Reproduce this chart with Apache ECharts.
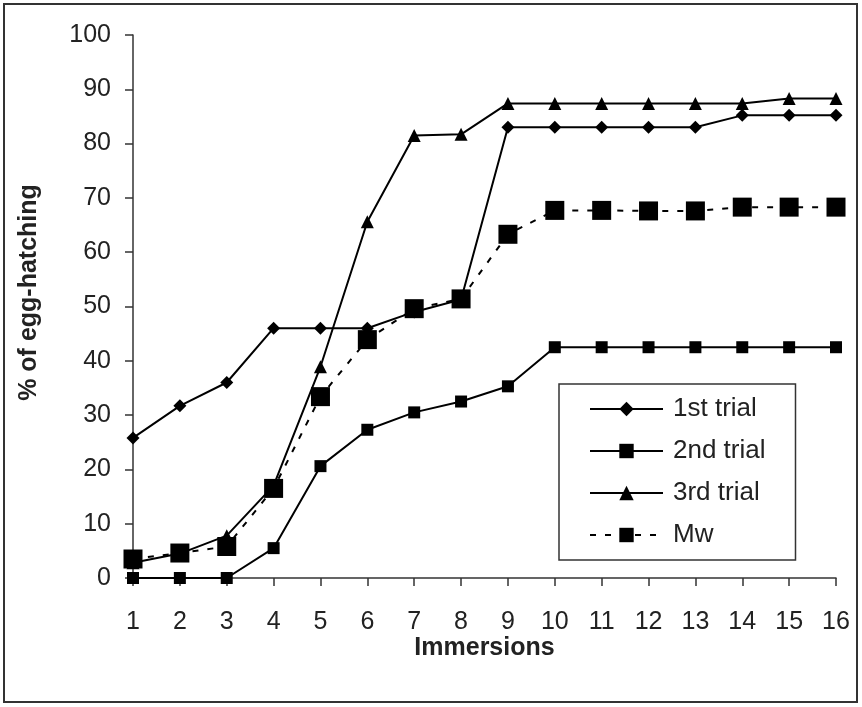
<!DOCTYPE html>
<html><head><meta charset="utf-8">
<script src="https://cdn.jsdelivr.net/npm/echarts@6/dist/echarts.min.js"></script>
<style>html,body{margin:0;padding:0;background:#fff}#c{width:862px;height:707px}</style>
</head><body><div id="c"></div>
<script>
const immersions = ['1','2','3','4','5','6','7','8','9','10','11','12','13','14','15','16'];
const yTicks = [0,10,20,30,40,50,60,70,80,90,100];
const trial1 = [25.8, 31.7, 36.0, 46.0, 46.0, 46.0, 49.0, 51.3, 83.0, 83.0, 83.0, 83.0, 83.0, 85.2, 85.2, 85.2];
const trial2 = [0, 0, 0, 5.5, 20.6, 27.3, 30.5, 32.5, 35.3, 42.5, 42.5, 42.5, 42.5, 42.5, 42.5, 42.5];
const trial3 = [2.8, 4.5, 7.8, 17.0, 38.9, 65.6, 81.5, 81.7, 87.4, 87.4, 87.4, 87.4, 87.4, 87.4, 88.3, 88.3];
const mw = [3.5, 4.6, 5.8, 16.5, 33.4, 43.9, 49.6, 51.4, 63.3, 67.7, 67.7, 67.6, 67.6, 68.3, 68.3, 68.3];

const FONT = 'Liberation Sans, Arial, sans-serif';
const chart = echarts.init(document.getElementById('c'), null, {renderer: 'canvas'});
const lineBase = {type: 'line', color: '#000', lineStyle: {color: '#000', width: 2}, itemStyle: {color: '#000'}, animation: false};
chart.setOption({
  backgroundColor: '#fff',
  graphic: [{type: 'rect', shape: {x: 4, y: 4, width: 853, height: 698}, style: {fill: 'none', stroke: '#333', lineWidth: 2}, silent: true}],
  grid: {left: 133, right: 26, top: 35, bottom: 129},
  xAxis: {
    type: 'category', data: immersions, boundaryGap: false,
    name: 'Immersions', nameLocation: 'middle', nameGap: 58, nameMoveOverlap: false,
    nameTextStyle: {fontFamily: FONT, fontWeight: 'bold', fontSize: 25, color: '#222'},
    axisLine: {lineStyle: {color: '#333', width: 1.5}},
    axisTick: {show: true, interval: 0, length: 8, lineStyle: {color: '#333', width: 1.5}},
    axisLabel: {interval: 0, margin: 32, fontFamily: FONT, fontSize: 25, color: '#222'},
    splitLine: {show: false}
  },
  yAxis: {
    type: 'value', min: yTicks[0], max: yTicks[yTicks.length - 1], interval: 10,
    name: '% of egg-hatching', nameLocation: 'middle', nameGap: 91, nameRotate: 90,
    nameTextStyle: {fontFamily: FONT, fontWeight: 'bold', fontSize: 25, color: '#222', padding: [0, 0, 0, 28]},
    axisLine: {show: true, lineStyle: {color: '#333', width: 1.5}},
    axisTick: {show: true, length: 8, lineStyle: {color: '#333', width: 1.5}},
    axisLabel: {margin: 22, fontFamily: FONT, fontSize: 25, color: '#222'},
    splitLine: {show: false}
  },
  legend: {
    orient: 'vertical', left: 559, top: 384,
    padding: [12, 30, 12, 30], itemWidth: 73, itemHeight: 18, itemGap: 16,
    borderColor: '#333', borderWidth: 1.5, backgroundColor: '#fff',
    textStyle: {fontFamily: FONT, fontSize: 26, color: '#222', padding: [0, 0, 0, 5]},
    data: ['1st trial', '2nd trial', '3rd trial', 'Mw']
  },
  series: [
    Object.assign({}, lineBase, {name: '1st trial', data: trial1, symbol: 'diamond', symbolSize: 13}),
    Object.assign({}, lineBase, {name: '2nd trial', data: trial2, symbol: 'rect', symbolSize: 12}),
    Object.assign({}, lineBase, {name: '3rd trial', data: trial3, symbol: 'triangle', symbolSize: 13}),
    Object.assign({}, lineBase, {name: 'Mw', data: mw, symbol: 'rect', symbolSize: 19, lineStyle: {color: '#000', width: 2, type: [6, 9]}})
  ]
});
</script></body></html>
